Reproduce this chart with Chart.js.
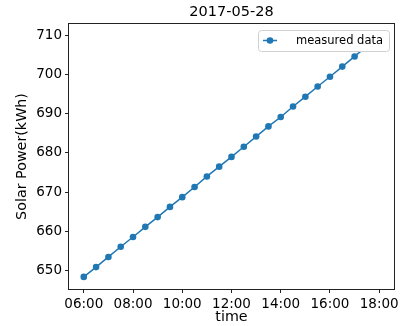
<!DOCTYPE html>
<html>
<head>
<meta charset="utf-8">
<script src="https://cdn.jsdelivr.net/npm/chart.js@4.4.0/dist/chart.umd.min.js"></script>
<style>
    html, body { margin: 0; padding: 0; background: #fff; }
</style>
</head>
<body>
<canvas id="chart-solar" width="405" height="326"></canvas>
<script>
// data (half-hourly readings)
const times = [
    "06:00", "06:30", "07:00", "07:30", "08:00", "08:30", "09:00", "09:30",
    "10:00", "10:30", "11:00", "11:30", "12:00", "12:30", "13:00", "13:30",
    "14:00", "14:30", "15:00", "15:30", "16:00", "16:30", "17:00", "17:30", "18:00",
];
const solarPower = [
    648.3, 650.8, 653.4, 656.0, 658.5, 661.1, 663.6, 666.2,
    668.7, 671.3, 674.0, 676.5, 679.0, 681.6, 684.2, 686.8,
    689.2, 691.9, 694.4, 697.0, 699.5, 702.1, 704.7, 707.3, 709.8,
];
const xTicks = [6, 8, 10, 12, 14, 16, 18];
const yTicks = [650, 660, 670, 680, 690, 700, 710];

const blue = "#1f77b4";
const font = "'DejaVu Sans', sans-serif";

function toHours(t) {
    const [h, m] = t.split(":");
    return Number(h) + Number(m) / 60;
}

function hourLabel(v) {
    return String(v).padStart(2, "0") + ":00";
}

// matplotlib style box around the axes
const frame = {
    id: "frame",
    afterDatasetsDraw(chart) {
        const { ctx, chartArea: a } = chart;
        ctx.save();
        ctx.strokeStyle = "#222";
        ctx.lineWidth = 1;
        ctx.strokeRect(Math.round(a.left) - 0.5, Math.round(a.top) - 0.5,
            Math.round(a.right - a.left) + 1, Math.round(a.bottom - a.top) + 1);
        ctx.restore();
    },
};

// legend sitting inside the upper right corner, on top of the line
const legendInside = {
    id: "legendInside",
    afterDatasetsDraw(chart) {
        const { ctx, chartArea: a } = chart;
        const w = 131, h = 21;
        const x = Math.round(a.right) - 5 - w, y = Math.round(a.top) + 6;
        const mid = y + h / 2;
        ctx.save();
        ctx.fillStyle = "#fff";
        ctx.strokeStyle = "#d0d0d0";
        ctx.lineWidth = 1;
        ctx.beginPath();
        ctx.roundRect(x + 0.5, y + 0.5, w, h, 3);
        ctx.fill();
        ctx.stroke();

        ctx.strokeStyle = blue;
        ctx.lineWidth = 1.5;
        ctx.beginPath();
        ctx.moveTo(x + 5, mid);
        ctx.lineTo(x + 19, mid);
        ctx.stroke();
        ctx.fillStyle = blue;
        ctx.beginPath();
        ctx.arc(x + 12, mid, 3.3, 0, Math.PI * 2);
        ctx.fill();

        ctx.fillStyle = "#000";
        ctx.font = "11.5px " + font;
        ctx.textBaseline = "middle";
        ctx.fillText(chart.data.datasets[0].label, x + 38, mid + 0.5);
        ctx.restore();
    },
};

const chartSolar = new Chart(document.getElementById("chart-solar"), {
    type: "line",
    data: {
        datasets: [
            {
                label: "measured data",
                data: times.map((t, i) => ({ x: toHours(t), y: solarPower[i] })),
                xAxisID: "x",
                yAxisID: "y",
                borderColor: blue,
                backgroundColor: blue,
                borderWidth: 1.5,
                pointRadius: 3.3,
                pointBorderWidth: 0,
                pointHoverRadius: 3.3,
                tension: 0,
            },
        ],
    },
    options: {
        responsive: false,
        animation: false,
        events: [],
        layout: { padding: { left: 0, right: 11, top: 0, bottom: 0 } },
        plugins: {
            legend: { display: false },
            tooltip: { enabled: false },
        },
        scales: {
            x: {
                type: "linear",
                min: 5.4,
                max: 18.6,
                afterBuildTicks: (scale) => {
                    scale.ticks = xTicks.map((v) => ({ value: v }));
                },
                afterFit: (scale) => {
                    scale.height = 37;
                },
                ticks: {
                    color: "#000",
                    font: { family: font, size: 13.5 },
                    padding: 3,
                    maxRotation: 0,
                    callback: (v) => hourLabel(v),
                },
                grid: { drawOnChartArea: false, drawTicks: true, tickLength: 4, color: "#222" },
                border: { display: false },
                title: {
                    display: true,
                    text: "time",
                    color: "#000",
                    font: { family: font, size: 14.3 },
                    padding: { top: 0, bottom: 0 },
                },
            },
            y: {
                min: 645.2,
                max: 713.0,
                afterBuildTicks: (scale) => {
                    scale.ticks = yTicks.map((v) => ({ value: v }));
                },
                afterFit: (scale) => {
                    scale.width = 69;
                },
                ticks: {
                    color: "#000",
                    font: { family: font, size: 13.5 },
                    padding: 3,
                },
                grid: { drawOnChartArea: false, drawTicks: true, tickLength: 4, color: "#222" },
                border: { display: false },
                title: {
                    display: true,
                    text: "Solar Power(kWh)",
                    color: "#000",
                    font: { family: font, size: 14.3 },
                    padding: { top: 14, bottom: 0 },
                },
            },
            // empty top axis, only used to centre the title over the plot
            top: {
                type: "linear",
                position: "top",
                min: 0,
                max: 1,
                afterFit: (scale) => {
                    scale.height = 24;
                },
                ticks: { display: false },
                grid: { display: false },
                border: { display: false },
                title: {
                    display: true,
                    text: "2017-05-28",
                    color: "#000",
                    font: { family: font, size: 14.5 },
                    padding: { top: 4, bottom: 0 },
                },
            },
        },
    },
    plugins: [frame, legendInside],
});
</script>
</body>
</html>
